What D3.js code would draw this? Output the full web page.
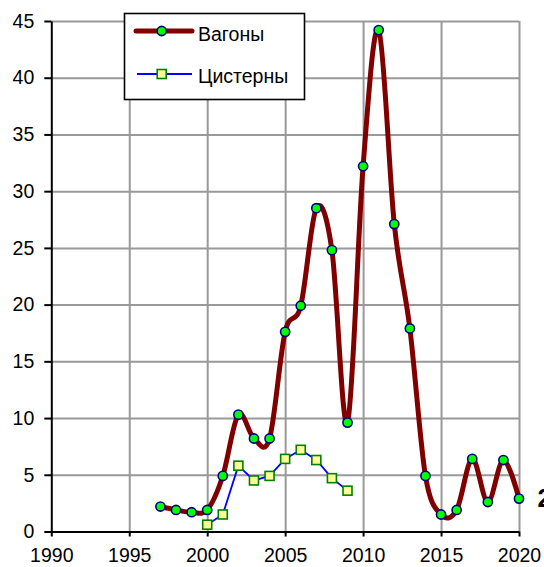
<!DOCTYPE html>
<html><head><meta charset="utf-8">
<script src="https://cdn.jsdelivr.net/npm/d3@7"></script>
<style>
body{margin:0;background:#fff}
svg text{font-family:"Liberation Sans",Arial,sans-serif;fill:#000}
</style>
</head><body>
<svg id="c" width="544" height="567"></svg>
<script>
// ---- data ----
const wagonYears = [1997,1998,1999,2000,2001,2002,2003,2004,2005,2006,2007,2008,2009,2010,2011,2012,2013,2014,2015,2016,2017,2018,2019,2020];
const wagonValues = [2.2,1.9,1.7,1.9,4.9,10.3,8.2,8.2,17.6,19.9,28.5,24.8,9.6,32.2,44.2,27.1,17.9,4.9,1.5,1.9,6.4,2.6,6.3,2.9];
const tankYears = [2000,2001,2002,2003,2004,2005,2006,2007,2008,2009];
const tankValues = [0.6,1.5,5.8,4.5,4.9,6.4,7.2,6.3,4.7,3.6];
const xTicks = [1990,1995,2000,2005,2010,2015,2020];
const yTicks = [0,5,10,15,20,25,30,35,40,45];
const seriesNames = ["Вагоны","Цистерны"];
const sideLabel = "2";

const wagons = wagonYears.map((y,i)=>({x:y,v:wagonValues[i]}));
const tanks = tankYears.map((y,i)=>({x:y,v:tankValues[i]}));

const svg = d3.select("#c");
const x = d3.scaleLinear().domain([1990,2020]).range([51.3,519]);
const y = d3.scaleLinear().domain([0,45]).range([531.5,21]);
const FS = "19.5px";

// grid
const gx = svg.append("g").attr("transform",`translate(0,${y(0)})`)
  .call(d3.axisBottom(x).tickValues(xTicks.slice(1)).tickSize(-(y(0)-y(45))).tickFormat(""));
gx.select(".domain").remove();
gx.selectAll("line").attr("stroke","#999").attr("stroke-width",2);
const gy = svg.append("g").attr("transform",`translate(${x(1990)},0)`)
  .call(d3.axisLeft(y).tickValues(yTicks.slice(1)).tickSize(-(x(2020)-x(1990))).tickFormat(""));
gy.select(".domain").remove();
gy.selectAll("line").attr("stroke","#999").attr("stroke-width",2);

// axes
const ax = svg.append("g").attr("transform",`translate(0,${y(0)})`)
  .call(d3.axisBottom(x).tickValues(xTicks).tickSize(5).tickSizeOuter(0).tickPadding(12).tickFormat(d3.format("d")));
ax.select(".domain").attr("stroke","#000").attr("stroke-width",2);
ax.selectAll("line").attr("stroke","#000").attr("stroke-width",2);
ax.selectAll("text").attr("font-size",FS).attr("font-family","Liberation Sans, Arial, sans-serif").attr("fill","#000");

const ay = svg.append("g").attr("transform",`translate(${x(1990)},0)`)
  .call(d3.axisLeft(y).tickValues(yTicks).tickSize(7).tickSizeOuter(0).tickPadding(10));
ay.select(".domain").attr("stroke","#000").attr("stroke-width",2);
ay.selectAll("line").attr("stroke","#000").attr("stroke-width",2);
ay.selectAll("text").attr("font-size",FS).attr("font-family","Liberation Sans, Arial, sans-serif").attr("fill","#000");

// lines
const lineW = d3.line().x(d=>x(d.x)).y(d=>y(d.v)).curve(d3.curveCatmullRom.alpha(0));
const lineT = d3.line().x(d=>x(d.x)).y(d=>y(d.v));

svg.append("path").datum(tanks).attr("d",lineT).attr("fill","none").attr("stroke","#0000ff").attr("stroke-width",1.8);
svg.append("path").datum(wagons).attr("d",lineW).attr("fill","none").attr("stroke","#800000").attr("stroke-width",5).attr("stroke-linejoin","round");

svg.append("g").selectAll("rect").data(tanks).join("rect")
  .attr("x",d=>x(d.x)-4.5).attr("y",d=>y(d.v)-4.5).attr("width",9).attr("height",9)
  .attr("fill","#ffff99").attr("stroke","#008000").attr("stroke-width",1.6);
svg.append("g").selectAll("circle").data(wagons).join("circle")
  .attr("cx",d=>x(d.x)).attr("cy",d=>y(d.v)).attr("r",4.6)
  .attr("fill","#00ff00").attr("stroke","#000080").attr("stroke-width",1.6);

// legend
const lg = svg.append("g");
lg.append("rect").attr("x",124.5).attr("y",13.5).attr("width",180).attr("height",86)
  .attr("fill","#fff").attr("stroke","#000").attr("stroke-width",1.6);
lg.append("line").attr("x1",136).attr("x2",192).attr("y1",31).attr("y2",31)
  .attr("stroke","#800000").attr("stroke-width",5).attr("stroke-linecap","round");
lg.append("circle").attr("cx",161.7).attr("cy",31).attr("r",4.6)
  .attr("fill","#00ff00").attr("stroke","#000080").attr("stroke-width",1.6);
lg.append("text").attr("x",198).attr("y",40.5).attr("font-size",FS).text(seriesNames[0]);
lg.append("line").attr("x1",137).attr("x2",192).attr("y1",74).attr("y2",74)
  .attr("stroke","#0000ff").attr("stroke-width",1.8);
lg.append("rect").attr("x",161.7-4.5).attr("y",74-4.5).attr("width",9).attr("height",9)
  .attr("fill","#ffff99").attr("stroke","#008000").attr("stroke-width",1.6);
lg.append("text").attr("x",198).attr("y",82.5).attr("font-size",FS).text(seriesNames[1]);

// clipped side label
svg.append("text").attr("x",537.5).attr("y",507).attr("font-size","25px").attr("font-weight","bold").text(sideLabel);
</script>
</body></html>
